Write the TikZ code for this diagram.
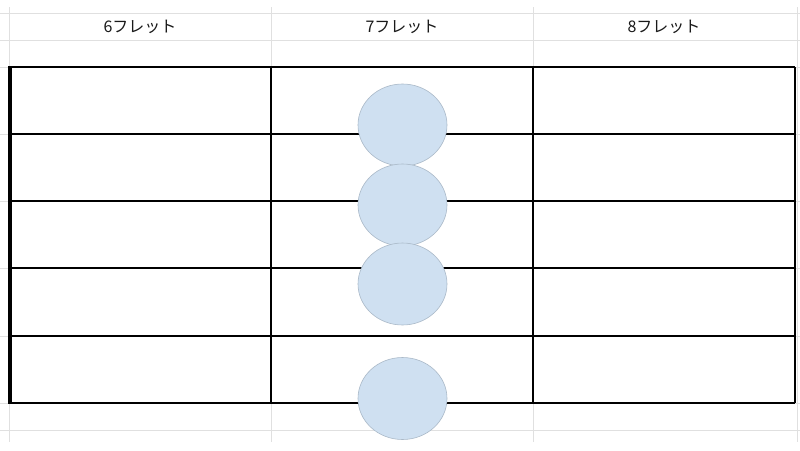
\documentclass[tikz,border=0pt]{standalone}
\usepackage{fontspec}
\usetikzlibrary{shapes.geometric}
\newfontfamily\jp{Noto Sans CJK JP}
\definecolor{dotfill}{RGB}{207,224,241}
\definecolor{dotline}{RGB}{170,185,200}
\begin{document}
\begin{tikzpicture}[x=1pt,y=-1pt,
  grid/.style={draw=black!12,line width=1pt},
  tab/.style={draw=black,line width=1.2pt},
  dot/.style={ellipse,draw=dotline,fill=dotfill,line width=0.6pt,minimum width=89pt,minimum height=82pt,inner sep=0pt},
  head/.style={font=\jp\fontsize{16}{16}\selectfont,text=black!90}]
\useasboundingbox (0,0) rectangle (800,450);
\fill[white] (0,0) rectangle (800,450);
% spreadsheet gridlines
\foreach \y in {13,40,67,134,201,268,336,403,430}
  \draw[grid] (0,\y) -- (800,\y);
\foreach \x in {9,271,533,797}
  \draw[grid] (\x,7) -- (\x,442);
% headers
\node[head] (h6) at (140,27) {6フレット};
\node[head] (h7) at (402,27) {7フレット};
\node[head] (h8) at (664,27) {8フレット};
% table
\foreach \y in {67,134,201,268,336,403}
  \draw[tab] (9,\y) -- (795,\y);
\foreach \x in {271,533,795}
  \draw[tab] (\x,67) -- (\x,403);
\draw[black,line width=3.2pt] (10,66.4) -- (10,403.6);
% dots
\node[dot] (d1) at (402.5,125) {};
\node[dot] (d2) at (402.5,205) {};
\node[dot] (d3) at (402.5,284) {};
\node[dot] (d4) at (402.5,398.5) {};
\end{tikzpicture}
\end{document}
